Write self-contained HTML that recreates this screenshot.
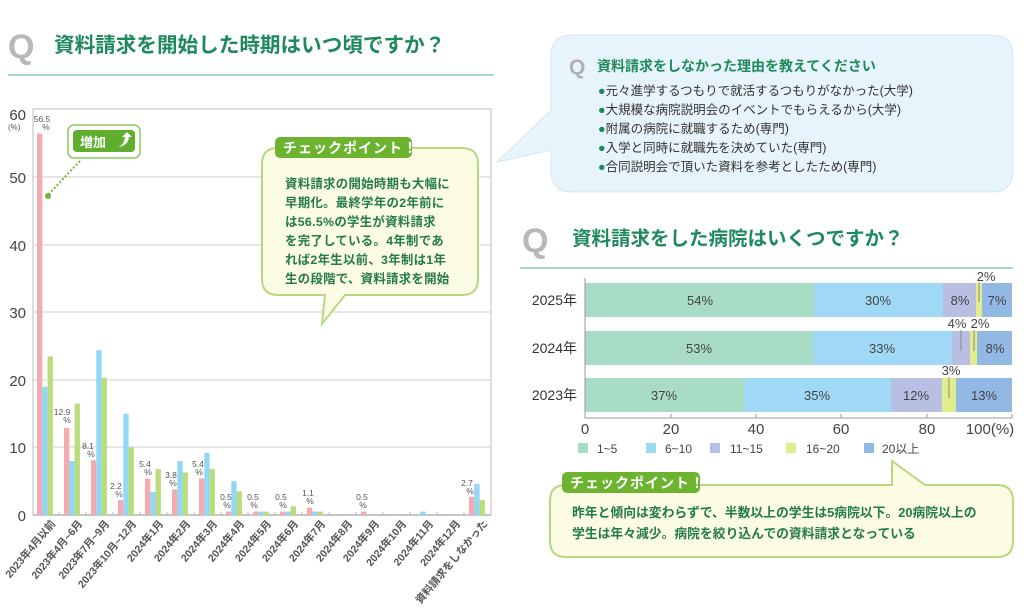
<!DOCTYPE html>
<html><head><meta charset="utf-8"><style>
html,body{margin:0;padding:0;background:#fff}
svg{display:block}
text{font-family:"Liberation Sans","Noto Sans CJK JP",sans-serif}
</style></head><body>
<svg width="1024" height="616" viewBox="0 0 1024 616" xmlns="http://www.w3.org/2000/svg">
<!-- Title left -->
<text x="8" y="58" font-size="34" font-weight="bold" fill="#b8b8b8">Q</text>
<text x="54" y="52" font-size="20.6" fill="#1e8a5c" font-weight="bold">資料請求を開始した時期はいつ頃ですか？</text>
<rect x="8" y="74" width="486" height="2" fill="#a9d9cb"/>

<!-- left chart frame & grid -->
<g stroke="#d8d8d8" stroke-width="1.2">
<line x1="33" y1="177" x2="491" y2="177"/><line x1="33" y1="245" x2="491" y2="245"/>
<line x1="33" y1="312" x2="491" y2="312"/><line x1="33" y1="380" x2="491" y2="380"/>
<line x1="33" y1="447" x2="491" y2="447"/>
</g>
<rect x="33" y="109" width="458" height="406" fill="none" stroke="#c8c8c8" stroke-width="1.2"/>
<line x1="33" y1="515" x2="491" y2="515" stroke="#aaa" stroke-width="1.2"/>
<g font-size="15" fill="#444" text-anchor="end">
<text x="26" y="120">60</text><text x="26" y="183">50</text><text x="26" y="251">40</text>
<text x="26" y="318">30</text><text x="26" y="386">20</text><text x="26" y="453">10</text><text x="26" y="521">0</text>
</g>
<text x="8" y="130" font-size="8" fill="#555">(%)</text>

<!-- bars -->
<g>
<g fill="#f4aaae">
<rect x="37" y="133.6" width="5.3" height="381.4"/><rect x="64" y="427.9" width="5.3" height="87.1"/>
<rect x="91" y="460.3" width="5.3" height="54.7"/><rect x="118" y="500.1" width="5.3" height="14.9"/>
<rect x="145" y="478.5" width="5.3" height="36.5"/><rect x="172" y="489.3" width="5.3" height="25.7"/>
<rect x="199" y="478.5" width="5.3" height="36.5"/><rect x="226" y="511.6" width="5.3" height="3.4"/>
<rect x="253" y="511.6" width="5.3" height="3.4"/><rect x="280" y="511.6" width="5.3" height="3.4"/>
<rect x="307" y="507.6" width="5.3" height="7.4"/><rect x="361" y="511.6" width="5.3" height="3.4"/>
<rect x="469" y="496.8" width="5.3" height="18.2"/>
</g>
<g fill="#90d8f5">
<rect x="42.3" y="386.7" width="5.3" height="128.3"/><rect x="69.3" y="461" width="5.3" height="54"/>
<rect x="96.3" y="350.3" width="5.3" height="164.7"/><rect x="123.3" y="413.7" width="5.3" height="101.3"/>
<rect x="150.3" y="492" width="5.3" height="23"/><rect x="177.3" y="461" width="5.3" height="54"/>
<rect x="204.3" y="452.9" width="5.3" height="62.1"/><rect x="231.3" y="481.2" width="5.3" height="33.8"/>
<rect x="258.3" y="511.6" width="5.3" height="3.4"/><rect x="285.3" y="511.6" width="5.3" height="3.4"/>
<rect x="312.3" y="511.6" width="5.3" height="3.4"/><rect x="420.3" y="511.6" width="5.3" height="3.4"/>
<rect x="474.3" y="484" width="5.3" height="31"/>
</g>
<g fill="#badc7a">
<rect x="47.6" y="356.4" width="5.3" height="158.6"/><rect x="74.6" y="403.6" width="5.3" height="111.4"/>
<rect x="101.6" y="378" width="5.3" height="137"/><rect x="128.6" y="447.5" width="5.3" height="67.5"/>
<rect x="155.6" y="469.1" width="5.3" height="45.9"/><rect x="182.6" y="472.5" width="5.3" height="42.5"/>
<rect x="209.6" y="469.1" width="5.3" height="45.9"/><rect x="236.6" y="491.4" width="5.3" height="23.6"/>
<rect x="263.6" y="511.6" width="5.3" height="3.4"/><rect x="290.6" y="506.2" width="5.3" height="8.8"/>
<rect x="317.6" y="511.6" width="5.3" height="3.4"/><rect x="479.6" y="500.1" width="5.3" height="14.9"/>
</g>
</g>
<!-- value labels -->
<g font-size="8.5" fill="#555" text-anchor="middle">
<text x="42" y="122">56.5</text><text x="46" y="130">%</text>
<text x="62" y="415">12.9</text><text x="67" y="423">%</text>
<text x="88" y="449">8.1</text><text x="91" y="457">%</text>
<text x="116" y="489">2.2</text><text x="119" y="497">%</text>
<text x="145" y="467">5.4</text><text x="148" y="475">%</text>
<text x="171" y="478">3.8</text><text x="173" y="486">%</text>
<text x="198" y="467">5.4</text><text x="199" y="475">%</text>
<text x="226" y="500">0.5</text><text x="227" y="508">%</text>
<text x="253" y="500">0.5</text><text x="254" y="508">%</text>
<text x="281" y="500">0.5</text><text x="283" y="508">%</text>
<text x="308" y="496">1.1</text><text x="310" y="504">%</text>
<text x="362" y="500">0.5</text><text x="363" y="508">%</text>
<text x="467" y="486">2.7</text><text x="470" y="494">%</text>
</g>
<!-- x tick marks -->
<g stroke="#bbb"><line x1="59" y1="512" x2="59" y2="515"/><line x1="86" y1="512" x2="86" y2="515"/><line x1="113" y1="512" x2="113" y2="515"/><line x1="140" y1="512" x2="140" y2="515"/><line x1="167" y1="512" x2="167" y2="515"/><line x1="194" y1="512" x2="194" y2="515"/><line x1="221" y1="512" x2="221" y2="515"/><line x1="248" y1="512" x2="248" y2="515"/><line x1="275" y1="512" x2="275" y2="515"/><line x1="302" y1="512" x2="302" y2="515"/><line x1="329" y1="512" x2="329" y2="515"/><line x1="356" y1="512" x2="356" y2="515"/><line x1="383" y1="512" x2="383" y2="515"/><line x1="410" y1="512" x2="410" y2="515"/><line x1="437" y1="512" x2="437" y2="515"/><line x1="464" y1="512" x2="464" y2="515"/></g>
<!-- x labels -->
<g font-size="10.5" fill="#555" text-anchor="end" font-weight="bold">
<text transform="translate(56,524) rotate(-50)">2023年4月以前</text>
<text transform="translate(83,524) rotate(-50)">2023年4月~6月</text>
<text transform="translate(110,524) rotate(-50)">2023年7月~9月</text>
<text transform="translate(137,524) rotate(-50)">2023年10月~12月</text>
<text transform="translate(164,524) rotate(-50)">2024年1月</text>
<text transform="translate(191,524) rotate(-50)">2024年2月</text>
<text transform="translate(218,524) rotate(-50)">2024年3月</text>
<text transform="translate(245,524) rotate(-50)">2024年4月</text>
<text transform="translate(272,524) rotate(-50)">2024年5月</text>
<text transform="translate(299,524) rotate(-50)">2024年6月</text>
<text transform="translate(326,524) rotate(-50)">2024年7月</text>
<text transform="translate(353,524) rotate(-50)">2024年8月</text>
<text transform="translate(380,524) rotate(-50)">2024年9月</text>
<text transform="translate(407,524) rotate(-50)">2024年10月</text>
<text transform="translate(434,524) rotate(-50)">2024年11月</text>
<text transform="translate(461,524) rotate(-50)">2024年12月</text>
<text transform="translate(488,524) rotate(-50)">資料請求をしなかった</text>
</g>

<!-- 増加 badge -->
<rect x="68" y="125" width="72" height="33" rx="6" fill="#fff" stroke="#8cc85a" stroke-width="1.5"/>
<rect x="73" y="130" width="62" height="22" rx="4" fill="#5fae2e"/>
<text x="80" y="147" font-size="13" font-weight="bold" fill="#fff">増加</text>
<path d="M118 147 q6 -2 7 -10 l-3 0 l5 -5 l5 5 l-3 0 q-1 9 -11 10z" fill="#fff"/>
<line x1="80" y1="161" x2="48" y2="195" stroke="#6fb43a" stroke-width="2" stroke-dasharray="2,2"/>
<circle cx="48" cy="196" r="3" fill="#6fb43a"/>

<!-- checkpoint bubble left -->
<path d="M278 148 H462 Q478 148 478 164 V279 Q478 295 462 295 H345 L322 324 L325 295 H278 Q262 295 262 279 V164 Q262 148 278 148Z" fill="#fcfce4" stroke="#b8d880" stroke-width="2"/>
<rect x="275" y="137" width="137" height="21" rx="5" fill="#6cb430"/>
<text x="283" y="153" font-size="14" font-weight="bold" fill="#fff" letter-spacing="1">チェックポイント！</text>
<g font-size="12.4" fill="#237a4a" letter-spacing="0.3" font-weight="bold">
<text x="285" y="188">資料請求の開始時期も大幅に</text>
<text x="285" y="207">早期化。最終学年の2年前に</text>
<text x="285" y="226">は56.5%の学生が資料請求</text>
<text x="285" y="245">を完了している。4年制であ</text>
<text x="285" y="264">れば2年生以前、3年制は1年</text>
<text x="285" y="283">生の段階で、資料請求を開始</text>
</g>

<!-- top right speech bubble -->
<path d="M572 35 H992 Q1013 35 1013 56 V171 Q1013 192 992 192 H572 Q551 192 551 171 V150 L497 162 L551 110 V56 Q551 35 572 35Z" fill="#e8f4fb" stroke="#d6e8f2" stroke-width="1"/>
<text x="569" y="74" font-size="21" font-weight="bold" fill="#b0b0b0">Q</text>
<text x="597" y="71" font-size="14" font-weight="bold" fill="#1e8a5c">資料請求をしなかった理由を教えてください</text>
<g font-size="12.5" fill="#333">
<text x="598" y="95"><tspan fill="#1e8a5c">●</tspan>元々進学するつもりで就活するつもりがなかった(大学)</text>
<text x="598" y="114"><tspan fill="#1e8a5c">●</tspan>大規模な病院説明会のイベントでもらえるから(大学)</text>
<text x="598" y="133"><tspan fill="#1e8a5c">●</tspan>附属の病院に就職するため(専門)</text>
<text x="598" y="152"><tspan fill="#1e8a5c">●</tspan>入学と同時に就職先を決めていた(専門)</text>
<text x="598" y="171"><tspan fill="#1e8a5c">●</tspan>合同説明会で頂いた資料を参考としたため(専門)</text>
</g>

<!-- second title -->
<text x="522" y="252" font-size="34" font-weight="bold" fill="#b8b8b8">Q</text>
<text x="572" y="245" font-size="19.5" fill="#1e8a5c" font-weight="bold">資料請求をした病院はいくつですか？</text>
<rect x="520" y="267" width="493" height="2" fill="#a9d9cb"/>

<!-- right stacked chart -->
<g font-size="14" fill="#333" text-anchor="end">
<text x="577" y="305">2025年</text><text x="577" y="353">2024年</text><text x="577" y="400">2023年</text>
</g>
<g>
<rect x="585" y="283" width="229" height="34" fill="#a9dcc5"/><rect x="814" y="283" width="129" height="34" fill="#9fd9f5"/>
<rect x="943" y="283" width="33" height="34" fill="#b9bfe2"/><rect x="976" y="283" width="6" height="34" fill="#e1ec8c"/>
<rect x="982" y="283" width="30" height="34" fill="#92b8e4"/>
<rect x="585" y="331" width="228" height="34" fill="#a9dcc5"/><rect x="813" y="331" width="139" height="34" fill="#9fd9f5"/>
<rect x="952" y="331" width="18" height="34" fill="#b9bfe2"/><rect x="970" y="331" width="7" height="34" fill="#e1ec8c"/>
<rect x="977" y="331" width="35" height="34" fill="#92b8e4"/>
<rect x="585" y="378" width="159" height="34" fill="#a9dcc5"/><rect x="744" y="378" width="147" height="34" fill="#9fd9f5"/>
<rect x="891" y="378" width="51" height="34" fill="#b9bfe2"/><rect x="942" y="378" width="14" height="34" fill="#e1ec8c"/>
<rect x="956" y="378" width="56" height="34" fill="#92b8e4"/>
</g>
<g stroke="#888" stroke-width="1">
<line x1="979" y1="282" x2="979" y2="302"/><line x1="961" y1="330" x2="961" y2="351"/>
<line x1="974" y1="330" x2="974" y2="351"/><line x1="949" y1="377" x2="949" y2="398"/>
</g>
<g font-size="13" fill="#444" text-anchor="middle">
<text x="700" y="305">54%</text><text x="878" y="305">30%</text><text x="960" y="305">8%</text><text x="997" y="305">7%</text>
<text x="986" y="281">2%</text>
<text x="699" y="353">53%</text><text x="882" y="353">33%</text><text x="995" y="353">8%</text>
<text x="957" y="328">4%</text><text x="980" y="328">2%</text>
<text x="664" y="400">37%</text><text x="817" y="400">35%</text><text x="916" y="400">12%</text><text x="984" y="400">13%</text>
<text x="951" y="375">3%</text>
</g>
<line x1="585" y1="278" x2="585" y2="418" stroke="#999"/>
<line x1="585" y1="418" x2="1012" y2="418" stroke="#999"/>
<g stroke="#999"><line x1="671" y1="414" x2="671" y2="418"/><line x1="756" y1="414" x2="756" y2="418"/><line x1="841" y1="414" x2="841" y2="418"/><line x1="927" y1="414" x2="927" y2="418"/><line x1="1012" y1="414" x2="1012" y2="418"/></g>
<g font-size="15" fill="#444" text-anchor="middle">
<text x="585" y="434">0</text><text x="671" y="434">20</text><text x="756" y="434">40</text><text x="841" y="434">60</text><text x="927" y="434">80</text>
<text x="990" y="434">100(%)</text>
</g>
<g font-size="12" fill="#444">
<rect x="578" y="443" width="10" height="10" fill="#a9dcc5"/><text x="597" y="453">1~5</text>
<rect x="646" y="443" width="10" height="10" fill="#9fd9f5"/><text x="665" y="453">6~10</text>
<rect x="710" y="443" width="10" height="10" fill="#b9bfe2"/><text x="730" y="453">11~15</text>
<rect x="786" y="443" width="10" height="10" fill="#e1ec8c"/><text x="806" y="453">16~20</text>
<rect x="864" y="443" width="10" height="10" fill="#92b8e4"/><text x="882" y="453">20以上</text>
</g>

<!-- bottom checkpoint bubble -->
<path d="M566 485 H892 L892 461 L925 485 H997 Q1013 485 1013 501 V541 Q1013 557 997 557 H566 Q550 557 550 541 V501 Q550 485 566 485Z" fill="#fcfce4" stroke="#b8d880" stroke-width="2"/>
<rect x="562" y="472" width="138" height="21" rx="5" fill="#6cb430"/>
<text x="570" y="488" font-size="14" font-weight="bold" fill="#fff" letter-spacing="1">チェックポイント！</text>
<g font-size="12.8" fill="#237a4a" font-weight="bold">
<text x="572" y="517">昨年と傾向は変わらずで、半数以上の学生は5病院以下。20病院以上の</text>
<text x="572" y="538">学生は年々減少。病院を絞り込んでの資料請求となっている</text>
</g>
</svg>
</body></html>
